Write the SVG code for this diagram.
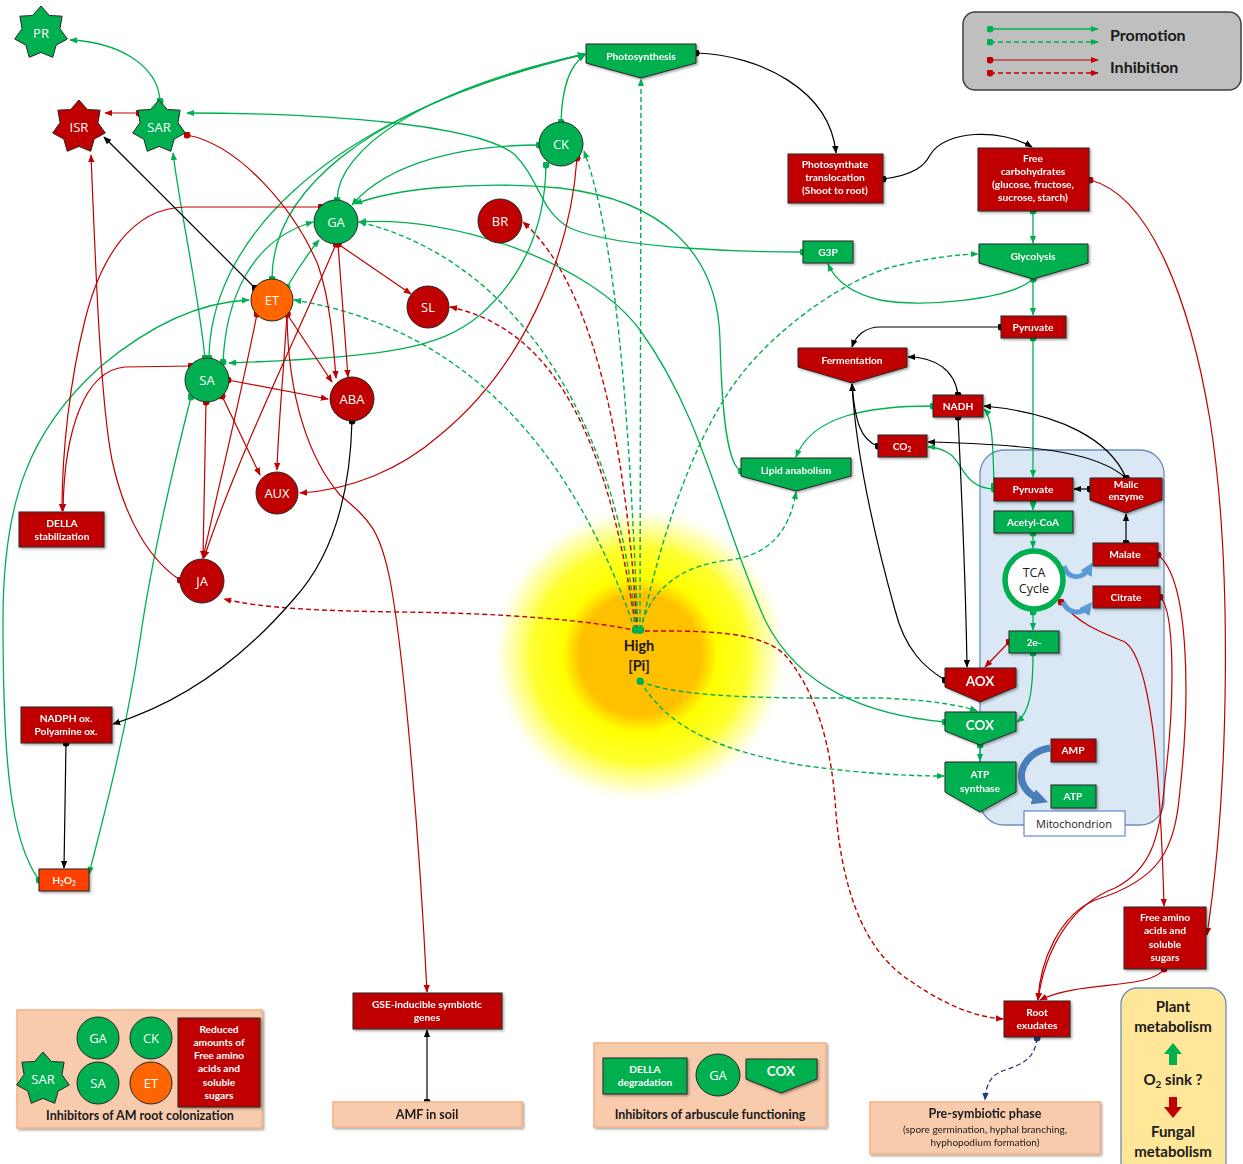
<svg xmlns="http://www.w3.org/2000/svg" width="1243" height="1164" viewBox="0 0 1243 1164">
<defs>
<style>
.rn{fill:#c00000;stroke:#262626;stroke-width:1}
.gn{fill:#00b050;stroke:#262626;stroke-width:1}
.on{fill:#ff6600;stroke:#262626;stroke-width:1}
.hn{fill:#ff4000;stroke:#262626;stroke-width:1}
.pe{fill:#f8cbad;stroke:#f4b183;stroke-width:1.5}
.bt{font-family:Lato,'Open Sans',sans-serif;font-weight:bold;font-size:10.2px;fill:#fff;text-anchor:middle}
.bb{font-family:Lato,'Open Sans',sans-serif;font-weight:bold;font-size:13.5px;fill:#fff;text-anchor:middle}
.ct{font-family:'Open Sans',sans-serif;font-size:13px;fill:#fff;text-anchor:middle}
.pt{font-family:Lato,'Open Sans',sans-serif;font-weight:bold;font-size:12.5px;fill:#1a1a1a;text-anchor:middle}
.g{fill:none;stroke:#00b050;stroke-width:1.3;marker-start:url(#dG);marker-end:url(#aG)}
.gd{fill:none;stroke:#00b050;stroke-width:1.4;stroke-dasharray:5 3;marker-start:url(#dG);marker-end:url(#aG)}
.r{fill:none;stroke:#c00000;stroke-width:1.2;marker-start:url(#dR);marker-end:url(#aR)}
.rd{fill:none;stroke:#c00000;stroke-width:1.4;stroke-dasharray:5 3;marker-end:url(#aR)}
.k{fill:none;stroke:#000;stroke-width:1.2;marker-start:url(#dK);marker-end:url(#aK)}
.bd{fill:none;stroke:#1f3a7a;stroke-width:1.3;stroke-dasharray:5 3;marker-start:url(#dB);marker-end:url(#aB)}
.bl{fill:none;stroke:#5b9bd5;stroke-width:5;marker-end:url(#aBl)}
</style>
<marker id="aG" viewBox="0 0 10 10" refX="9" refY="5" markerWidth="8" markerHeight="8" markerUnits="userSpaceOnUse" orient="auto"><path d="M0,1 L10,5 L0,9 z" fill="#00b050"/></marker>
<marker id="dG" viewBox="0 0 10 10" refX="5" refY="5" markerWidth="7" markerHeight="7" markerUnits="userSpaceOnUse"><circle cx="5" cy="5" r="5" fill="#00b050"/></marker>
<marker id="aR" viewBox="0 0 10 10" refX="9" refY="5" markerWidth="8" markerHeight="8" markerUnits="userSpaceOnUse" orient="auto"><path d="M0,1 L10,5 L0,9 z" fill="#c00000"/></marker>
<marker id="dR" viewBox="0 0 10 10" refX="5" refY="5" markerWidth="7" markerHeight="7" markerUnits="userSpaceOnUse"><circle cx="5" cy="5" r="5" fill="#c00000"/></marker>
<marker id="aK" viewBox="0 0 10 10" refX="9" refY="5" markerWidth="8" markerHeight="8" markerUnits="userSpaceOnUse" orient="auto"><path d="M0,1 L10,5 L0,9 z" fill="#000"/></marker>
<marker id="dK" viewBox="0 0 10 10" refX="5" refY="5" markerWidth="7" markerHeight="7" markerUnits="userSpaceOnUse"><circle cx="5" cy="5" r="5" fill="#000"/></marker>
<marker id="aB" viewBox="0 0 10 10" refX="9" refY="5" markerWidth="8" markerHeight="8" markerUnits="userSpaceOnUse" orient="auto"><path d="M0,1 L10,5 L0,9 z" fill="#1f3a7a"/></marker>
<marker id="dB" viewBox="0 0 10 10" refX="5" refY="5" markerWidth="7" markerHeight="7" markerUnits="userSpaceOnUse"><circle cx="5" cy="5" r="5" fill="#1f3a7a"/></marker>
<marker id="aBl" viewBox="0 0 10 10" refX="6" refY="5" markerWidth="13" markerHeight="13" markerUnits="userSpaceOnUse" orient="auto"><path d="M0,0 L10,5 L0,10 z" fill="#5b9bd5"/></marker>
<marker id="aBd" viewBox="0 0 10 10" refX="6" refY="5" markerWidth="16" markerHeight="16" markerUnits="userSpaceOnUse" orient="auto"><path d="M0,0 L10,5 L0,10 z" fill="#4a7ebb"/></marker>
<radialGradient id="sun" cx="0.5" cy="0.5" r="0.5">
<stop offset="0" stop-color="#ffc000"/>
<stop offset="0.4" stop-color="#ffc000"/>
<stop offset="0.52" stop-color="#ffff00"/>
<stop offset="0.72" stop-color="#ffff30"/>
<stop offset="0.88" stop-color="#ffffa0" stop-opacity="0.7"/>
<stop offset="1" stop-color="#ffffff" stop-opacity="0"/>
</radialGradient>
<filter id="sh" x="-10%" y="-10%" width="130%" height="140%"><feDropShadow dx="1.5" dy="1.5" stdDeviation="1" flood-opacity="0.35"/></filter>
<polygon id="star" points="0,-27 8.43,-17.51 21.11,-16.83 18.95,-4.33 26.32,6.01 15.2,12.12 11.72,24.33 0,19.44 -11.72,24.33 -15.2,12.12 -26.32,6.01 -18.95,-4.33 -21.11,-16.83 -8.43,-17.51"/>
</defs>
<rect width="1243" height="1164" fill="#fff"/>

<!-- backgrounds -->
<circle id="sun-glow" cx="640" cy="655" r="150" fill="url(#sun)"/>
<rect id="mitochondrion-bg" x="980" y="450" width="184" height="375" rx="24" fill="#dae8f5" stroke="#6c8ebf" stroke-width="1.3"/>

<!-- legend -->
<g id="legend">
<rect x="963" y="12" width="278" height="78" rx="12" fill="#bfbfbf" stroke="#404040" stroke-width="1.5"/>
<path class="g" d="M990,29 L1098,29"/>
<path class="gd" d="M990,42 L1098,42"/>
<path class="r" d="M990,60 L1098,60"/>
<path class="rd" d="M990,73 L1098,73" style="marker-start:url(#dR)"/>
<text x="1110" y="41" font-family="Lato,'Open Sans',sans-serif" font-weight="bold" font-size="16" fill="#1a1a1a">Promotion</text>
<text x="1110" y="73" font-family="Lato,'Open Sans',sans-serif" font-weight="bold" font-size="16" fill="#1a1a1a">Inhibition</text>
</g>

<!-- connectors -->
<g id="connectors">
<path class="rd" d="M637,630 C628,470 600,290 523,222"/>
<path class="rd" d="M636,630 C610,450 560,330 450,307"/>
<path class="rd" d="M638,631 C590,620 500,613 400,612 C320,611 260,608 224,599"/>
<path class="rd" d="M645,631 C700,631 760,630 785,655 C815,690 830,740 835,800 C840,880 860,950 912,982 C945,1005 975,1017 1003,1019"/>
<path class="gd" d="M640,630 L641,79"/>
<path class="gd" d="M638,630 C630,450 620,250 584,151"/>
<path class="gd" d="M636,630 C620,430 520,260 359,222"/>
<path class="gd" d="M635,630 C580,470 480,330 294,300"/>
<path class="gd" d="M641,630 C660,540 690,450 730,390 C770,330 850,275 900,265 C930,258 960,254 978,254"/>
<path class="gd" d="M640,630 C650,590 680,565 730,560 C770,555 790,530 796,492"/>
<path class="gd" d="M640,681 C680,700 800,698 880,698 C930,700 960,705 977,711"/>
<path class="gd" d="M640,681 C670,730 720,750 800,765 C870,775 920,776 944,776"/>

<path class="g" d="M160,101 C158,65 118,42 70,40"/>
<path class="g" d="M803,252 C760,252 620,250 570,228 C540,212 540,180 515,155 C480,125 330,113 187,113"/>
<path class="g" d="M1033,279 C1010,300 920,308 880,300 C850,293 835,280 828,264"/>
<path class="g" d="M1033,211 L1033,243"/>
<path class="g" d="M1033,279 L1033,315"/>
<path class="g" d="M1033,338 L1033,477"/>
<path class="g" d="M1033,501 L1033,510"/>
<path class="g" d="M1033,533 L1033,548"/>
<path class="g" d="M1033,612 L1033,630"/>
<path class="g" d="M1033,653 C1033,690 1030,712 1017,722"/>
<path class="g" d="M980,745 L980,761"/>
<path class="g" d="M994,489 C965,489 962,462 950,454 C942,449 935,447 928,447"/>
<path class="g" d="M994,486 C993,450 993,418 984,409"/>
<path class="g" d="M933,406 C870,406 812,415 796,457"/>
<path class="g" d="M741,471 C728,465 722,420 720,340 C718,250 660,200 560,188 C470,180 390,190 355,204"/>
<path class="g" d="M945,722 C870,715 800,690 765,620 C720,520 705,420 640,330 C590,262 450,215 359,222"/>
<path class="g" d="M561,122 C562,90 568,66 585,55"/>
<path class="g" d="M337,200 C338,150 420,90 585,54"/>
<path class="g" d="M272,279 C272,200 350,110 585,54"/>
<path class="g" d="M209,358 C210,250 310,120 585,54"/>
<path class="g" d="M539,145 C470,145 390,160 352,205"/>
<path class="g" d="M546,165 C545,230 520,280 480,315 C440,348 390,357 229,363"/>
<path class="g" d="M287,287 C297,270 307,255 319,240"/>
<path class="g" d="M39,880 C10,840 3,760 3,620 C3,500 30,430 100,367 C150,325 200,302 249,300"/>
<path class="g" d="M191,397 C170,480 150,570 140,640 C125,740 100,830 89,874"/>
<path class="g" d="M205,358 C198,290 180,210 173,153"/>
<path class="g" d="M223,362 C226,300 250,240 313,222"/>

<path class="r" d="M139,113 L105,113"/>
<path class="r" d="M187,135 C240,145 295,210 318,265 C330,300 333,340 336,378"/>
<path class="r" d="M321,207 L185,207 C130,208 100,260 85,320 C70,380 62,450 62,511"/>
<path class="r" d="M191,366 L125,367 C85,370 64,430 63,511"/>
<path class="r" d="M338,244 L348,377"/>
<path class="r" d="M338,244 L411,294"/>
<path class="r" d="M336,244 C300,330 240,450 204,558"/>
<path class="r" d="M257,314 C240,400 220,480 203,558"/>
<path class="r" d="M287,314 L332,382"/>
<path class="r" d="M287,314 C283,380 278,430 277,470"/>
<path class="r" d="M287,314 C288,400 310,460 340,495 C370,520 380,530 390,580 C405,660 420,850 427,992"/>
<path class="r" d="M228,380 L328,399"/>
<path class="r" d="M222,396 L260,475"/>
<path class="r" d="M206,402 L203,558"/>
<path class="r" d="M577,158 C570,260 520,370 440,435 C400,470 350,490 300,493"/>
<path class="r" d="M180,580 C150,560 125,520 112,460 C100,400 95,250 91,155"/>
<path class="r" d="M1090,180 C1150,195 1190,300 1210,420 C1232,560 1230,780 1207,935"/>
<path class="r" d="M1061,602 C1080,625 1100,632 1125,642 C1150,660 1160,760 1164,906"/>
<path class="r" d="M1158,555 C1190,580 1190,700 1180,790 C1175,850 1160,880 1095,900 C1060,915 1040,960 1038,1000"/>
<path class="r" d="M1160,597 C1175,610 1175,700 1165,780 C1160,840 1150,870 1115,888 C1070,905 1045,950 1038,1000"/>
<path class="r" d="M1164,969 C1150,990 1080,980 1040,1000"/>
<path class="r" d="M1009,642 L985,667"/>

<path class="k" d="M696,53 C760,55 830,90 836,153"/>
<path class="k" d="M883,179 C915,175 925,165 930,155 C945,130 1000,128 1032,147"/>
<path class="k" d="M1001,327 L880,327 C866,327 856,335 852,347"/>
<path class="k" d="M958,395 C955,370 935,357 908,357"/>
<path class="k" d="M958,417 C962,500 966,600 967,667"/>
<path class="k" d="M878,446 C860,440 855,420 852,384"/>
<path class="k" d="M945,680 C925,668 905,650 895,610 C870,520 855,440 852,384"/>
<path class="k" d="M1126,478 C1110,440 1060,413 984,406"/>
<path class="k" d="M1126,478 C1100,455 1050,445 928,442"/>
<path class="k" d="M1090,489 L1074,489"/>
<path class="k" d="M1126,543 L1126,514"/>
<path class="k" d="M352,421 C350,500 330,560 293,600 C250,650 190,700 113,724"/>
<path class="k" d="M66,743 L64,868"/>
<path class="k" d="M427,1102 L427,1030"/>
<path class="k" d="M255,288 L104,137"/>

<path class="bd" d="M1037,1038 C1035,1060 1020,1065 1005,1070 C990,1075 986,1085 985,1100"/>
<path class="bl" d="M1064,566 C1068,579 1082,581 1090,567"/>
<path class="bl" d="M1063,602 C1068,614 1082,615 1089,606"/>
<path d="M1050,748 C1020,752 1008,788 1042,800" fill="none" stroke="#4a7ebb" stroke-width="7" marker-end="url(#aBd)"/>
</g>

<!-- nodes -->
<g id="node-PR"><use href="#star" x="41" y="33" class="gn"/><text class="ct" x="41" y="38">PR</text></g>
<g id="node-ISR"><use href="#star" x="79" y="127" class="rn"/><text class="ct" x="79" y="132">ISR</text></g>
<g id="node-SAR"><use href="#star" x="159" y="127" class="gn"/><text class="ct" x="159" y="132">SAR</text></g>
<g id="node-CK"><circle cx="561" cy="144" r="22" class="gn"/><text class="ct" x="561" y="149">CK</text></g>
<g id="node-GA"><circle cx="336" cy="222" r="22" class="gn"/><text class="ct" x="336" y="227">GA</text></g>
<g id="node-BR"><circle cx="500" cy="221" r="22" class="rn"/><text class="ct" x="500" y="226">BR</text></g>
<g id="node-ET"><circle cx="272" cy="300" r="21" class="on"/><text class="ct" x="272" y="305">ET</text></g>
<g id="node-SL"><circle cx="428" cy="307" r="21" class="rn"/><text class="ct" x="428" y="312">SL</text></g>
<g id="node-SA"><circle cx="207" cy="380" r="22" class="gn"/><text class="ct" x="207" y="385">SA</text></g>
<g id="node-ABA"><circle cx="352" cy="399" r="22" class="rn"/><text class="ct" x="352" y="404">ABA</text></g>
<g id="node-AUX"><circle cx="277" cy="493" r="21" class="rn"/><text class="ct" x="277" y="498">AUX</text></g>
<g id="node-JA"><circle cx="202" cy="581" r="22" class="rn"/><text class="ct" x="202" y="586">JA</text></g>

<g id="node-DELLA-stab" filter="url(#sh)"><rect x="19" y="512" width="85" height="35" class="rn"/><text class="bt" x="62" y="527">DELLA</text><text class="bt" x="62" y="540">stabilization</text></g>
<g id="node-NADPH" filter="url(#sh)"><rect x="21" y="707" width="91" height="36" class="rn"/><text class="bt" x="66" y="722">NADPH ox.</text><text class="bt" x="66" y="735">Polyamine ox.</text></g>
<g id="node-H2O2" filter="url(#sh)"><rect x="39" y="869" width="50" height="22" class="hn"/><text class="bt" x="64" y="884">H<tspan font-size="6.5" dy="2">2</tspan><tspan dy="-2">O</tspan><tspan font-size="6.5" dy="2">2</tspan></text></g>

<g id="node-Photosynthesis" filter="url(#sh)"><path d="M586,44 L696,44 L696,63 L641,78 L586,63 Z" class="gn"/><text class="bt" x="641" y="60">Photosynthesis</text></g>
<g id="node-Translocation" filter="url(#sh)"><rect x="788" y="154" width="95" height="49" class="rn"/><text class="bt" x="835" y="168">Photosynthate</text><text class="bt" x="835" y="181">translocation</text><text class="bt" x="835" y="194">(Shoot to root)</text></g>
<g id="node-FreeCarb" filter="url(#sh)"><rect x="978" y="148" width="111" height="63" class="rn"/><text class="bt" x="1033" y="162">Free</text><text class="bt" x="1033" y="175">carbohydrates</text><text class="bt" x="1033" y="188">(glucose, fructose,</text><text class="bt" x="1033" y="201">sucrose, starch)</text></g>
<g id="node-G3P" filter="url(#sh)"><rect x="803" y="241" width="50" height="22" class="gn"/><text class="bt" x="828" y="256">G3P</text></g>
<g id="node-Glycolysis" filter="url(#sh)"><path d="M979,244 L1088,244 L1088,263 L1033,279 L979,263 Z" class="gn"/><text class="bt" x="1033" y="260">Glycolysis</text></g>
<g id="node-Pyruvate1" filter="url(#sh)"><rect x="1001" y="316" width="65" height="22" class="rn"/><text class="bt" x="1033" y="331">Pyruvate</text></g>
<g id="node-Fermentation" filter="url(#sh)"><path d="M798,348 L907,348 L907,367 L852,383 L798,367 Z" class="rn"/><text class="bt" x="852" y="364">Fermentation</text></g>
<g id="node-NADH" filter="url(#sh)"><rect x="933" y="395" width="50" height="22" class="rn"/><text class="bt" x="958" y="410">NADH</text></g>
<g id="node-CO2" filter="url(#sh)"><rect x="878" y="435" width="49" height="22" class="rn"/><text class="bt" x="902" y="450">CO<tspan font-size="6.5" dy="2">2</tspan></text></g>
<g id="node-Lipid" filter="url(#sh)"><path d="M741,458 L851,458 L851,476 L796,491 L741,476 Z" class="gn"/><text class="bt" x="796" y="474">Lipid anabolism</text></g>
<g id="node-Pyruvate2" filter="url(#sh)"><rect x="994" y="478" width="79" height="23" class="rn"/><text class="bt" x="1033" y="493">Pyruvate</text></g>
<g id="node-Malic" filter="url(#sh)"><path d="M1090,478 L1162,478 L1162,500 L1126,513 L1090,500 Z" class="rn"/><text class="bt" x="1126" y="488">Malic</text><text class="bt" x="1126" y="500">enzyme</text></g>
<g id="node-AcetylCoA" filter="url(#sh)"><rect x="994" y="511" width="79" height="22" class="gn"/><text class="bt" x="1033" y="526">Acetyl-CoA</text></g>
<g id="node-TCA"><circle cx="1034" cy="580" r="29" fill="#fff" stroke="#00b050" stroke-width="5.5"/><text x="1034" y="577" font-family="'Open Sans',sans-serif" font-size="12.5" fill="#1a1a1a" text-anchor="middle">TCA</text><text x="1034" y="593" font-family="'Open Sans',sans-serif" font-size="12.5" fill="#1a1a1a" text-anchor="middle">Cycle</text></g>
<g id="node-Malate" filter="url(#sh)"><rect x="1093" y="543" width="65" height="23" class="rn"/><text class="bt" x="1125" y="558">Malate</text></g>
<g id="node-Citrate" filter="url(#sh)"><rect x="1093" y="586" width="67" height="22" class="rn"/><text class="bt" x="1126" y="601">Citrate</text></g>
<g id="node-2e" filter="url(#sh)"><rect x="1009" y="631" width="50" height="22" class="gn"/><text class="bt" x="1034" y="646">2e-</text></g>
<g id="node-AOX" filter="url(#sh)"><path d="M945,668 L1016,668 L1016,687 L980,702 L945,687 Z" class="rn"/><text class="bb" x="980" y="686">AOX</text></g>
<g id="node-COX" filter="url(#sh)"><path d="M945,712 L1016,712 L1016,731 L980,745 L945,731 Z" class="gn"/><text class="bb" x="980" y="730">COX</text></g>
<g id="node-ATPsynthase" filter="url(#sh)"><path d="M945,762 L1016,762 L1016,792 L980,812 L945,792 Z" class="gn"/><text class="bt" x="980" y="778" font-size="11">ATP</text><text class="bt" x="980" y="792" font-size="11">synthase</text></g>
<g id="node-AMP" filter="url(#sh)"><rect x="1051" y="739" width="45" height="23" class="rn"/><text class="bt" x="1073" y="754">AMP</text></g>
<g id="node-ATP" filter="url(#sh)"><rect x="1051" y="785" width="45" height="23" class="gn"/><text class="bt" x="1073" y="800">ATP</text></g>
<g id="label-Mitochondrion"><rect x="1024" y="811" width="101" height="25" fill="#fff" stroke="#4472c4" stroke-width="1"/><text x="1074" y="828" font-family="'Open Sans',sans-serif" font-size="11" fill="#1a1a1a" text-anchor="middle">Mitochondrion</text></g>
<g id="node-FreeAmino" filter="url(#sh)"><rect x="1124" y="907" width="82" height="62" class="rn"/><text class="bt" x="1165" y="921">Free amino</text><text class="bt" x="1165" y="934">acids and</text><text class="bt" x="1165" y="948">soluble</text><text class="bt" x="1165" y="961">sugars</text></g>
<g id="node-RootExudates" filter="url(#sh)"><rect x="1004" y="1001" width="66" height="36" class="rn"/><text class="bt" x="1037" y="1016">Root</text><text class="bt" x="1037" y="1029">exudates</text></g>
<g id="node-GSE" filter="url(#sh)"><rect x="353" y="993" width="149" height="36" class="rn"/><text class="bt" x="427" y="1008">GSE-inducible symbiotic</text><text class="bt" x="427" y="1021">genes</text></g>
<g id="node-AMF" filter="url(#sh)"><rect x="333" y="1102" width="189" height="25" class="pe"/><text class="pt" x="427" y="1119">AMF in soil</text></g>

<g id="node-HighPi"><circle cx="640" cy="630" r="3.5" fill="#00b050"/><circle cx="640" cy="681" r="3.5" fill="#00b050"/><text x="639" y="651" font-family="Lato,'Open Sans',sans-serif" font-weight="bold" font-size="14.5" fill="#1a1a1a" text-anchor="middle">High</text><text x="639" y="671" font-family="Lato,'Open Sans',sans-serif" font-weight="bold" font-size="14.5" fill="#1a1a1a" text-anchor="middle">[Pi]</text></g>

<g id="node-PreSymbiotic" filter="url(#sh)"><rect x="870" y="1102" width="230" height="52" class="pe"/><text class="pt" x="985" y="1118">Pre-symbiotic phase</text><text x="985" y="1133" font-family="Lato,'Open Sans',sans-serif" font-size="10" fill="#1a1a1a" text-anchor="middle">(spore germination, hyphal branching,</text><text x="985" y="1146" font-family="Lato,'Open Sans',sans-serif" font-size="10" fill="#1a1a1a" text-anchor="middle">hyphopodium formation)</text></g>

<g id="group-InhibitorsAM">
<rect x="17" y="1010" width="245" height="118" class="pe" filter="url(#sh)"/>
<circle cx="98" cy="1038" r="21" class="gn"/><text class="ct" x="98" y="1043">GA</text>
<circle cx="151" cy="1038" r="21" class="gn"/><text class="ct" x="151" y="1043">CK</text>
<circle cx="98" cy="1083" r="21" class="gn"/><text class="ct" x="98" y="1088">SA</text>
<circle cx="151" cy="1083" r="21" class="on"/><text class="ct" x="151" y="1088">ET</text>
<use href="#star" x="43" y="1079" class="gn"/><text class="ct" x="43" y="1084">SAR</text>
<rect x="178" y="1018" width="82" height="89" class="rn" filter="url(#sh)"/>
<text class="bt" x="219" y="1033">Reduced</text><text class="bt" x="219" y="1046">amounts of</text><text class="bt" x="219" y="1059">Free amino</text><text class="bt" x="219" y="1072">acids and</text><text class="bt" x="219" y="1086">soluble</text><text class="bt" x="219" y="1099">sugars</text>
<text class="pt" x="140" y="1120">Inhibitors of AM root colonization</text>
</g>

<g id="group-InhibitorsArb">
<rect x="594" y="1043" width="232" height="84" class="pe" filter="url(#sh)"/>
<rect x="603" y="1058" width="84" height="36" class="gn" filter="url(#sh)"/><text class="bt" x="645" y="1073">DELLA</text><text class="bt" x="645" y="1086">degradation</text>
<ellipse cx="718" cy="1075" rx="22" ry="21" class="gn"/><text class="ct" x="718" y="1080">GA</text>
<path d="M746,1059 L817,1059 L817,1079 L781,1093 L746,1079 Z" class="gn" filter="url(#sh)"/><text class="bb" x="781" y="1076">COX</text>
<text class="pt" x="710" y="1119">Inhibitors of arbuscule functioning</text>
</g>

<g id="group-PlantMetabolism">
<rect x="1121" y="988" width="105" height="192" rx="16" fill="#ffe699" stroke="#6c8ebf" stroke-width="1.3"/>
<text x="1173" y="1012" font-family="Lato,'Open Sans',sans-serif" font-weight="bold" font-size="15" fill="#1a1a1a" text-anchor="middle">Plant</text>
<text x="1173" y="1032" font-family="Lato,'Open Sans',sans-serif" font-weight="bold" font-size="15" fill="#1a1a1a" text-anchor="middle">metabolism</text>
<path d="M1173,1043 L1182,1054 L1177,1054 L1177,1065 L1169,1065 L1169,1054 L1164,1054 Z" fill="#00b050"/>
<text x="1173" y="1085" font-family="Lato,'Open Sans',sans-serif" font-weight="bold" font-size="15" fill="#1a1a1a" text-anchor="middle">O<tspan font-size="10" dy="3">2</tspan><tspan dy="-3"> sink ?</tspan></text>
<path d="M1169,1097 L1177,1097 L1177,1107 L1182,1107 L1173,1118 L1164,1107 L1169,1107 Z" fill="#c00000"/>
<text x="1173" y="1137" font-family="Lato,'Open Sans',sans-serif" font-weight="bold" font-size="15" fill="#1a1a1a" text-anchor="middle">Fungal</text>
<text x="1173" y="1157" font-family="Lato,'Open Sans',sans-serif" font-weight="bold" font-size="15" fill="#1a1a1a" text-anchor="middle">metabolism</text>
</g>
</svg>
